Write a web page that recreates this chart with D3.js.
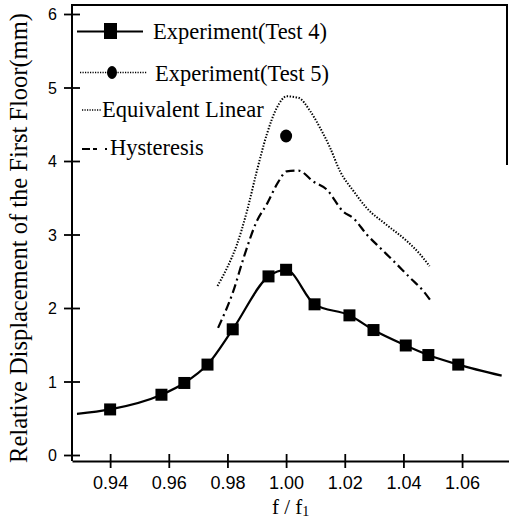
<!DOCTYPE html>
<html>
<head>
<meta charset="utf-8">
<script src="https://cdn.jsdelivr.net/npm/d3@7"></script>
<style>
	body { margin: 0; background: #fff; }
	svg { display: block; }
	.tick text { fill: #000; }
</style>
</head>
<body>
<div id="chart"></div>
<script>
'use strict';

// Test 4: measured points (squares)
var test4Ratio = [0.940, 0.9575, 0.9653, 0.9732, 0.9818, 0.994, 1.000, 1.0097, 1.0216, 1.0298, 1.0408, 1.0485, 1.0587];
var test4Disp  = [0.62, 0.82, 0.98, 1.23, 1.71, 2.43, 2.52, 2.05, 1.90, 1.70, 1.49, 1.36, 1.23];
// line of Test 4 runs a bit beyond the first and last square
var test4LineStart = [0.9287, 0.56];
var test4LineEnd = [1.0735, 1.08];

// Test 5: single point
var test5Ratio = [1.000];
var test5Disp = [4.34];

// Equivalent Linear (dotted)
var eqRatio = [0.9766, 0.9798, 0.9832, 0.9866, 0.990, 0.9934, 0.9968, 1.0002, 1.0042, 1.0082, 1.0116, 1.015, 1.0184, 1.023, 1.0275, 1.0343, 1.0412, 1.0457, 1.0489];
var eqDisp  = [2.30, 2.54, 2.86, 3.31, 3.86, 4.36, 4.72, 4.88, 4.86, 4.68, 4.45, 4.18, 3.86, 3.59, 3.36, 3.13, 2.91, 2.73, 2.57];

// Hysteresis (dash-dot)
var hyRatio = [0.9768, 0.982, 0.9855, 0.990, 0.9934, 0.9974, 1.0002, 1.0042, 1.0093, 1.0139, 1.0195, 1.023, 1.0275, 1.032, 1.0366, 1.0423, 1.0468, 1.0491];
var hyDisp  = [1.73, 2.23, 2.68, 3.18, 3.41, 3.72, 3.86, 3.87, 3.72, 3.61, 3.31, 3.22, 3.00, 2.82, 2.64, 2.41, 2.23, 2.11];

var xTicks = [0.94, 0.96, 0.98, 1.00, 1.02, 1.04, 1.06];
var yTicks = [0, 1, 2, 3, 4, 5, 6];

var legendLabels = ['Experiment(Test 4)', 'Experiment(Test 5)', 'Equivalent Linear', 'Hysteresis'];

var width = 509, height = 519;
var serif = '"Liberation Serif", "Times New Roman", serif';
var sans = '"Liberation Sans", Arial, sans-serif';

var svg = d3.select('#chart')
	.append('svg')
	.attr('width', width)
	.attr('height', height)
	;

var x = d3.scaleLinear()
	.domain([0.927, 1.076])
	.range([72, 509])
	;
var y = d3.scaleLinear()
	.domain([0, 6])
	.range([455, 14])
	;

function pairs(xs, ys) {
	return xs.map(function(v, i) { return [v, ys[i]]; });
}

// frame: y axis line, top line and the short right line
svg.append('path')
	.attr('d', 'M' + x.range()[0] + ',' + 461 + 'V5H507V165')
	.attr('fill', 'none')
	.attr('stroke', '#000')
	.attr('stroke-width', 2)
	;

// x axis
var xAxis = d3.axisBottom(x)
	.tickValues(xTicks)
	.tickFormat(d3.format('.2f'))
	.tickSizeOuter(0)
	;
var gx = svg.append('g')
	.attr('transform', 'translate(0,461)')
	.call(xAxis)
	;
gx.select('.domain')
	.attr('stroke-width', 2)
	;
gx.selectAll('.tick line')
	.attr('y1', -7)
	.attr('y2', 7)
	.attr('stroke-width', 1.8)
	;
gx.selectAll('.tick text')
	.attr('y', 28)
	.attr('dy', 0)
	.style('font-family', sans)
	.style('font-size', '18px')
	;

// y axis
var yAxis = d3.axisLeft(y)
	.tickValues(yTicks)
	.tickFormat(d3.format('d'))
	.tickSizeOuter(0)
	;
var gy = svg.append('g')
	.attr('transform', 'translate(72,0)')
	.call(yAxis)
	;
gy.select('.domain').remove();
gy.selectAll('.tick line')
	.attr('x1', -8)
	.attr('x2', 8)
	.attr('stroke-width', 1.8)
	;
gy.selectAll('.tick text')
	.attr('x', -15)
	.attr('dy', '0.36em')
	.style('font-family', sans)
	.style('font-size', '16px')
	;

// axis titles
svg.append('text')
	.attr('transform', 'translate(27,238) rotate(-90)')
	.attr('text-anchor', 'middle')
	.style('font-family', serif)
	.style('font-size', '24.5px')
	.text('Relative Displacement of the First Floor(mm)')
	;
var xt = svg.append('text')
	.attr('x', 272)
	.attr('y', 514)
	.style('font-family', serif)
	.style('font-size', '21px')
	.text('f / f')
	;
xt.append('tspan')
	.attr('dy', 2)
	.style('font-size', '14px')
	.text('1')
	;

var line = d3.line()
	.x(function(d) { return x(d[0]); })
	.y(function(d) { return y(d[1]); })
	.curve(d3.curveMonotoneX)
	;

var plot = svg.append('g').attr('class', 'plot');

plot.append('path')
	.datum(pairs(eqRatio, eqDisp))
	.attr('d', line)
	.attr('fill', 'none')
	.attr('stroke', '#000')
	.attr('stroke-width', 2)
	.attr('stroke-dasharray', '1.4,1.6')
	;

plot.append('path')
	.datum(pairs(hyRatio, hyDisp))
	.attr('d', line)
	.attr('fill', 'none')
	.attr('stroke', '#000')
	.attr('stroke-width', 2.2)
	.attr('stroke-dasharray', '9,4,2,4')
	;

var test4 = pairs(test4Ratio, test4Disp);
plot.append('path')
	.datum([test4LineStart].concat(test4, [test4LineEnd]))
	.attr('d', line)
	.attr('fill', 'none')
	.attr('stroke', '#000')
	.attr('stroke-width', 2.2)
	;
plot.selectAll('.sq')
	.data(test4)
	.enter()
	.append('rect')
		.attr('class', 'sq')
		.attr('x', function(d) { return x(d[0]) - 6; })
		.attr('y', function(d) { return y(d[1]) - 6; })
		.attr('width', 12)
		.attr('height', 12)
		.attr('fill', '#000')
	;
plot.selectAll('.dot')
	.data(pairs(test5Ratio, test5Disp))
	.enter()
	.append('ellipse')
		.attr('class', 'dot')
		.attr('cx', function(d) { return x(d[0]); })
		.attr('cy', function(d) { return y(d[1]); })
		.attr('rx', 6)
		.attr('ry', 6.5)
		.attr('fill', '#000')
	;

// legend
var legend = svg.append('g').attr('class', 'legend');

legend.append('line')
	.attr('x1', 77).attr('x2', 143)
	.attr('y1', 31.5).attr('y2', 31.5)
	.attr('stroke', '#000')
	.attr('stroke-width', 2)
	;
legend.append('rect')
	.attr('x', 104).attr('y', 23)
	.attr('width', 13).attr('height', 16)
	.attr('fill', '#000')
	;
legend.append('line')
	.attr('x1', 80).attr('x2', 147)
	.attr('y1', 72.5).attr('y2', 72.5)
	.attr('stroke', '#000')
	.attr('stroke-width', 1.5)
	.attr('stroke-dasharray', '1.2,1.3')
	;
legend.append('ellipse')
	.attr('cx', 112).attr('cy', 72.5)
	.attr('rx', 5).attr('ry', 6.5)
	.attr('fill', '#000')
	;
legend.append('line')
	.attr('x1', 82).attr('x2', 102)
	.attr('y1', 110).attr('y2', 110)
	.attr('stroke', '#000')
	.attr('stroke-width', 1.5)
	.attr('stroke-dasharray', '1.2,1.3')
	;
legend.append('line')
	.attr('x1', 82).attr('x2', 108)
	.attr('y1', 149).attr('y2', 149)
	.attr('stroke', '#000')
	.attr('stroke-width', 2.2)
	.attr('stroke-dasharray', '8,3,4,8,2,10')
	;

var legendX = [153, 155, 102, 110];
var legendY = [39, 81, 117, 155];
legend.selectAll('.ltext')
	.data(legendLabels)
	.enter()
	.append('text')
		.attr('class', 'ltext')
		.attr('x', function(d, i) { return legendX[i]; })
		.attr('y', function(d, i) { return legendY[i]; })
		.style('font-family', serif)
		.style('font-size', '22.5px')
		.text(function(d) { return d; })
	;
</script>
</body>
</html>
